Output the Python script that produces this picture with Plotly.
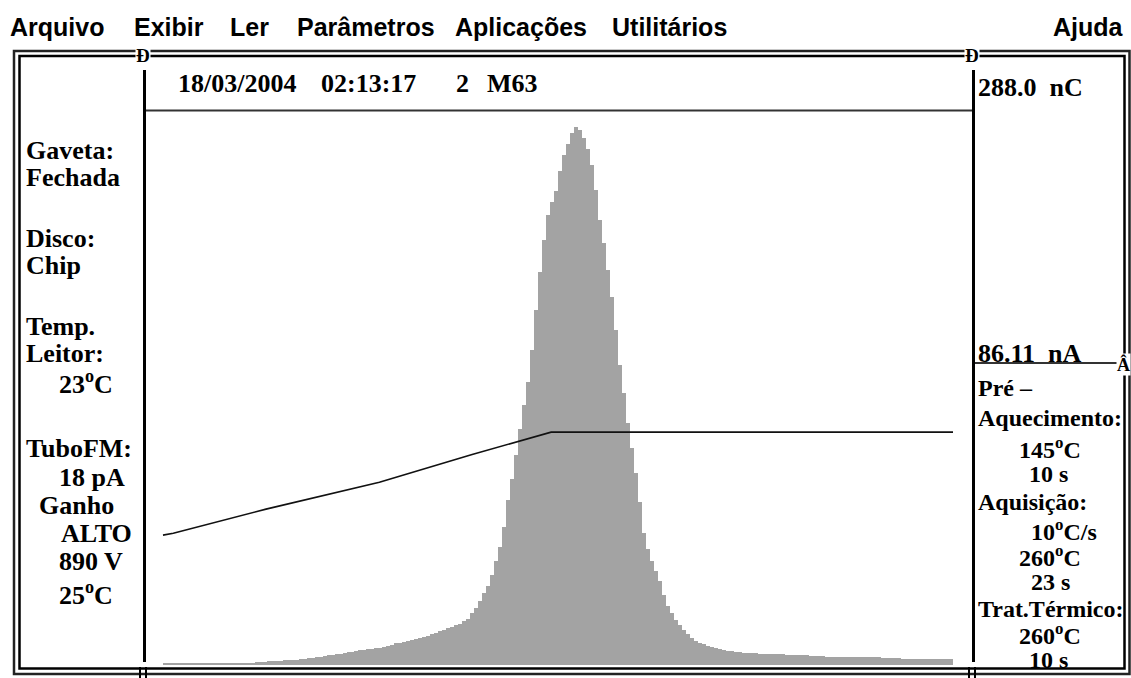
import plotly.graph_objects as go

# ---------------- data ----------------
channels = list(range(198))
glow_signal = [
    2, 2, 2, 2, 2, 2, 2, 2, 2, 2, 2, 2, 2, 2, 2, 2, 2, 2, 2, 2, 2, 2, 2,
    3, 3, 3, 4, 4, 4, 4, 5, 5, 5, 5, 6, 6, 7, 7, 8, 8, 9, 10, 10, 11, 11,
    12, 13, 13, 14, 15, 15, 16, 16, 17, 17, 18, 19, 20, 22, 22,
    23, 24, 25, 26, 27, 28, 29, 31, 32, 34, 35, 37, 38, 40, 41, 44, 46,
    52, 57, 64, 72, 79, 90, 104, 118, 138, 165, 186, 210, 236, 260, 283,
    315, 355, 393, 425, 450, 463, 474, 494, 510, 521, 532, 538, 535, 527,
    516, 500, 475, 445, 422, 395, 368, 335, 300, 272, 242, 217, 192, 163,
    132, 116, 104, 94, 84, 70, 59, 52, 45, 40, 35, 31, 27, 24, 22, 21, 19,
    18, 17, 16, 15, 14, 14, 13, 13, 12,
    12, 12, 12, 11, 11, 11,
    11, 11, 11, 11, 10, 10, 10, 10, 10,
    10, 9, 9, 9, 9, 8, 8, 8, 8, 8,
    8, 8, 8, 8, 8, 8, 8, 8, 8, 7,
    7, 7, 7, 7, 6, 6, 6, 6, 6, 6,
    6, 6, 6, 6, 6, 6, 6,
]
temp_time_s = [0, 0.3, 3, 6.3, 9, 11.3, 23]
temp_C = [145, 147, 174, 204, 235, 260, 260]

menu_items = ["Arquivo", "Exibir", "Ler", "Parâmetros", "Aplicações", "Utilitários", "Ajuda"]
menu_left = [9, 133, 229, 296, 454, 611, 1052]

header_items = ["18/03/2004", "02:13:17", "2", "M63"]
header_left = [177, 320, 455, 486]

left_panel = [
    ("Gaveta:", 25, 150), ("Fechada", 25, 178),
    ("Disco:", 25, 238), ("Chip", 25, 265),
    ("Temp.", 25, 326), ("Leitor:", 25, 353), ("23<sup>o</sup>C", 58, 382),
    ("TuboFM:", 25, 448), ("18 pA", 58, 477), ("Ganho", 38, 505),
    ("ALTO", 60, 533), ("890 V", 58, 561), ("25<sup>o</sup>C", 58, 593),
]
right_big = [("288.0\u00a0\u00a0nC", 977, 88), ("86.11\u00a0\u00a0nA", 977, 353)]
right_panel = [
    ("Pré –", 977, 388), ("Aquecimento:", 977, 418),
    ("145<sup>o</sup>C", 1018, 448), ("10 s", 1028, 474),
    ("Aquisição:", 977, 502), ("10<sup>o</sup>C/s", 1030, 530),
    ("260<sup>o</sup>C", 1018, 556), ("23 s", 1030, 582),
    ("Trat.Térmico:", 977, 609), ("260<sup>o</sup>C", 1018, 634),
    ("10 s", 1028, 660),
]

# ---------------- geometry helpers (layout only) ----------------
W, H = 1131, 678
L, R, T, B = 146, 160, 112, 13
PW, PH = W - L - R, H - T - B


def px(x):
    return (x - L) / PW


def py(y):
    return (H - B - y) / PH


SERIF = "Liberation Serif"
SANS = "Liberation Sans"

fig = go.Figure()
fig.add_trace(go.Bar(
    x=channels, y=glow_signal, width=1,
    marker=dict(color="#a3a3a3", line=dict(width=0)),
    hoverinfo="skip", showlegend=False,
))
fig.add_trace(go.Scatter(
    x=temp_time_s, y=temp_C, mode="lines", xaxis="x2", yaxis="y2",
    line=dict(color="#111111", width=1.6), hoverinfo="skip", showlegend=False,
))

annotations = []


def add_text(text, x, y, font, size, anchor="left", bg=None):
    d = dict(text=text, x=px(x), y=py(y), xref="paper", yref="paper",
             xanchor=anchor, yanchor="middle", showarrow=False,
             font=dict(family=font, size=size, color="black"), borderpad=0)
    if bg:
        d["bgcolor"] = bg
    annotations.append(d)


for t, x in zip(menu_items, menu_left):
    add_text("<b>" + t + "</b>", x, 27, SANS, 25)
for t, x in zip(header_items, header_left):
    add_text("<b>" + t + "</b>", x, 84, SERIF, 26)
for t, x, y in left_panel:
    add_text("<b>" + t + "</b>", x, y, SERIF, 26)
for t, x, y in right_big:
    add_text("<b>" + t + "</b>", x, y, SERIF, 26)
for t, x, y in right_panel:
    add_text("<b>" + t + "</b>", x, y, SERIF, 24)

# junction glyphs
add_text("<b>Ð</b>", 143, 55, SERIF, 19, anchor="center", bg="white")
add_text("<b>Ð</b>", 972, 55, SERIF, 19, anchor="center", bg="white")
add_text("<b>Â</b>", 1123, 364, SERIF, 18, anchor="center", bg="white")

shapes = []


def line(x0, y0, x1, y1, w, c="black"):
    shapes.append(dict(type="line", xref="paper", yref="paper",
                       x0=px(x0), y0=py(y0), x1=px(x1), y1=py(y1),
                       line=dict(color=c, width=w), layer="above"))


# outer double frame
shapes.append(dict(type="rect", xref="paper", yref="paper",
                   x0=px(14), y0=py(51), x1=px(1129.5), y1=py(674),
                   line=dict(color="#222222", width=2.5), layer="above"))
shapes.append(dict(type="rect", xref="paper", yref="paper",
                   x0=px(19.5), y0=py(56), x1=px(1124.5), y1=py(668.5),
                   line=dict(color="black", width=2.5), layer="above"))
# dividers
line(144.5, 70, 144.5, 662, 3)
line(973.5, 70, 973.5, 662, 3)
# header underline
line(146, 110.5, 972, 110.5, 2, "#333333")
# right panel underline
line(975, 363, 1121, 363, 2, "#333333")
# bottom junction ticks
for xb in (140, 146, 969, 975):
    line(xb, 667, xb, 678, 2)

fig.update_layout(
    width=W, height=H,
    margin=dict(l=L, r=R, t=T, b=B, pad=0),
    paper_bgcolor="white", plot_bgcolor="white",
    bargap=0,
    xaxis=dict(range=[-4.75, 202], visible=False, fixedrange=True),
    yaxis=dict(range=[0, 553], visible=False, fixedrange=True),
    xaxis2=dict(range=[-0.4949, 23.524], overlaying="x", visible=False),
    yaxis2=dict(range=[0, 617.4], overlaying="y", visible=False),
    annotations=annotations, shapes=shapes,
)

fig.write_html("out.html")
